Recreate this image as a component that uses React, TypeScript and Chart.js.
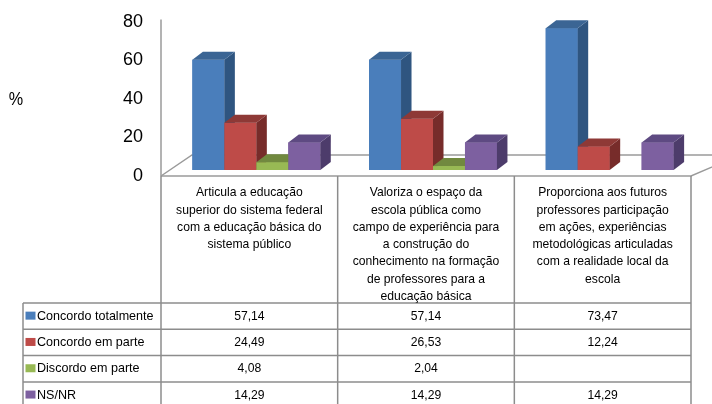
import React, { useEffect, useRef } from "react";
import { Chart, registerables } from "chart.js";

Chart.register(...registerables);

// ---------- data ----------
const categories: string[][] = [
  ["Articula a educação", "superior do sistema federal", "com a educação básica do", "sistema público"],
  [
    "Valoriza o espaço da",
    "escola pública como",
    "campo de experiência para",
    "a construção do",
    "conhecimento na formação",
    "de professores para a",
    "educação básica",
  ],
  [
    "Proporciona aos futuros",
    "professores participação",
    "em ações, experiências",
    "metodológicas articuladas",
    "com a realidade local da",
    "escola",
  ],
];
const seriesNames = ["Concordo totalmente", "Concordo em parte", "Discordo em parte", "NS/NR"];
const concordoTotalmente: (number | null)[] = [57.14, 57.14, 73.47];
const concordoEmParte: (number | null)[] = [24.49, 26.53, 12.24];
const discordoEmParte: (number | null)[] = [4.08, 2.04, null];
const nsNr: (number | null)[] = [14.29, 14.29, 14.29];
const yMin = 0;
const yMax = 80;
const yStep = 20;
const yTitle = "%";

// ---------- style ----------
const COLORS = [
  { front: "#4A7EBB", side: "#2F5580", top: "#3B6594" },
  { front: "#BE4B48", side: "#772C2A", top: "#8E3936" },
  { front: "#98B954", side: "#6A8A39", top: "#71893F" },
  { front: "#7D60A0", side: "#4D3C6B", top: "#5E4A82" },
];
const DX = 10.5;
const DY = 8;
const SX = 0.9;
const FONT = "Liberation Sans, Arial, sans-serif";

function drawText(ctx: CanvasRenderingContext2D, text: string, x: number, y: number, align: CanvasTextAlign, sx = SX) {
  ctx.save();
  ctx.translate(x, y);
  ctx.scale(sx, 1);
  ctx.textAlign = align;
  ctx.textBaseline = "middle";
  ctx.fillText(text, 0, 0);
  ctx.restore();
}

const fmt = (v: number | null) => (v == null ? "" : v.toFixed(2).replace(".", ","));

const threeD = {
  id: "threeD",
  beforeDatasetsDraw(chart: any) {
    const { ctx, chartArea } = chart;
    const { left, right, top, bottom } = chartArea;
    const L = left - 7;
    const R = right - 7;
    ctx.save();
    ctx.strokeStyle = "#9a9a9a";
    ctx.lineWidth = 1.5;
    ctx.beginPath();
    ctx.moveTo(L, top + 4);
    ctx.lineTo(L, bottom + 6);
    ctx.stroke();
    ctx.beginPath();
    ctx.moveTo(L, bottom + 6);
    ctx.lineTo(L + 31, bottom - 15);
    ctx.lineTo(R + 60, bottom - 15);
    ctx.stroke();
    ctx.beginPath();
    ctx.moveTo(L, bottom + 6);
    ctx.lineTo(R, bottom + 6);
    ctx.lineTo(R + 49, bottom - 15);
    ctx.stroke();
    ctx.restore();
  },
  afterDatasetsDraw(chart: any) {
    const { ctx } = chart;
    ctx.save();
    chart.data.datasets.forEach((ds: any, i: number) => {
      const c = COLORS[i];
      const meta = chart.getDatasetMeta(i);
      meta.data.forEach((bar: any, j: number) => {
        if (ds.data[j] == null) return;
        const { x, y, base, width } = bar.getProps(["x", "y", "base", "width"], true);
        const l = x - width / 2;
        const r = x + width / 2;
        ctx.fillStyle = c.front;
        ctx.fillRect(l, y, width, base - y);
        ctx.fillStyle = c.side;
        ctx.beginPath();
        ctx.moveTo(r, y);
        ctx.lineTo(r + DX, y - DY);
        ctx.lineTo(r + DX, base - DY);
        ctx.lineTo(r, base);
        ctx.closePath();
        ctx.fill();
        ctx.fillStyle = c.top;
        ctx.beginPath();
        ctx.moveTo(l, y);
        ctx.lineTo(l + DX, y - DY);
        ctx.lineTo(r + DX, y - DY);
        ctx.lineTo(r, y);
        ctx.closePath();
        ctx.fill();
      });
    });
    ctx.restore();
  },
  afterDraw(chart: any) {
    const { ctx, chartArea } = chart;
    const { left, right, bottom } = chartArea;
    const L = left - 7;
    const R = right - 7;
    const colW = (R - L) / 3;
    const headTop = bottom + 6;
    const headBottom = bottom + 133;
    const rowH = 26.3;
    const rowLeft = 23;
    ctx.save();
    ctx.strokeStyle = "#8c8c8c";
    ctx.lineWidth = 1.5;
    for (let k = 0; k <= 3; k++) {
      const x = L + k * colW;
      ctx.beginPath();
      ctx.moveTo(x, headTop);
      ctx.lineTo(x, 420);
      ctx.stroke();
    }
    ctx.beginPath();
    ctx.moveTo(rowLeft, headBottom);
    ctx.lineTo(rowLeft, 420);
    ctx.stroke();
    for (let r = 0; r <= 4; r++) {
      const y = headBottom + r * rowH;
      ctx.beginPath();
      ctx.moveTo(rowLeft, y);
      ctx.lineTo(R, y);
      ctx.stroke();
    }
    ctx.fillStyle = "#000";
    ctx.font = `13.5px ${FONT}`;
    categories.forEach((lines, k) => {
      const cx = L + (k + 0.5) * colW;
      lines.forEach((t, li) => drawText(ctx, t, cx, headTop + 16.5 + li * 17.3, "center"));
    });
    const series = chart.data.datasets;
    series.forEach((ds: any, r: number) => {
      const cy = headBottom + (r + 0.5) * rowH;
      ctx.fillStyle = COLORS[r].front;
      ctx.fillRect(rowLeft + 2.5, cy - 4.5, 10, 8);
      ctx.fillStyle = "#000";
      drawText(ctx, seriesNames[r], rowLeft + 14, cy, "left", 0.93);
      ds.data.forEach((v: number | null, k: number) => {
        drawText(ctx, fmt(v), L + (k + 0.5) * colW, cy, "center");
      });
    });
    ctx.font = `18px ${FONT}`;
    drawText(ctx, yTitle, 16, 100, "center");
    ctx.restore();
  },
};

export default function App() {
  const ref = useRef<HTMLCanvasElement | null>(null);
  useEffect(() => {
    document.body.style.margin = "0";
    const canvas = ref.current;
    if (!canvas) return;
    const all = [concordoTotalmente, concordoEmParte, discordoEmParte, nsNr];
    const chart = new Chart(canvas, {
      type: "bar",
      data: {
        labels: categories.map((c) => c.join(" ")),
        datasets: all.map((d, i) => ({
          label: seriesNames[i],
          data: d,
          backgroundColor: COLORS[i].front,
          borderWidth: 0,
          barPercentage: 1,
          categoryPercentage: 0.724,
        })),
      },
      options: {
        animation: false,
        responsive: false,
        devicePixelRatio: 1,
        layout: { padding: { left: 0, right: 14, top: 15.6, bottom: 234 } },
        plugins: { legend: { display: false }, tooltip: { enabled: false } },
        scales: {
          x: { display: false },
          y: {
            min: yMin,
            max: yMax,
            afterFit: (scale: any) => {
              scale.width = 168;
            },
            grid: { display: false, drawTicks: true, tickLength: 25 },
            border: { display: false },
            ticks: {
              stepSize: yStep,
              padding: 0,
              labelOffset: 6,
              color: "#000",
              font: { size: 18, family: FONT },
            },
          },
        },
      },
      plugins: [threeD],
    });
    return () => chart.destroy();
  }, []);
  return (
    <div style={{ width: 712, height: 404, background: "#fff" }}>
      <canvas ref={ref} width={712} height={404} />
    </div>
  );
}
